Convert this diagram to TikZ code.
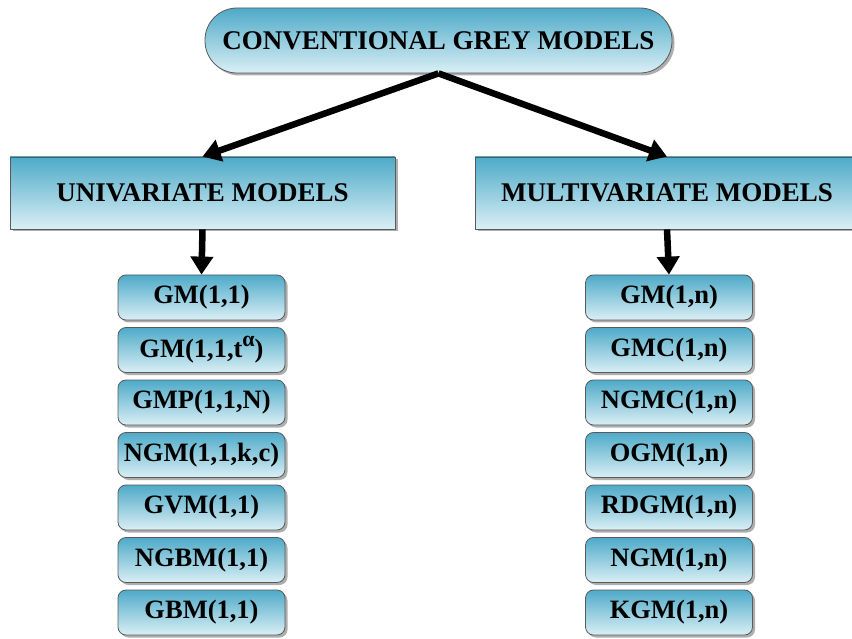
\documentclass[tikz,border=0pt]{standalone}
\usepackage{fontspec}
\setmainfont{Liberation Serif}[BoldFont={Liberation Serif Bold}]
\usetikzlibrary{arrows.meta,shadows,positioning}
\definecolor{boxtop}{RGB}{78,170,200}
\definecolor{boxbot}{RGB}{218,239,245}
\definecolor{boxline}{RGB}{90,90,90}
\tikzset{
  boxbase/.style={draw=boxline, line width=0.8pt, top color=boxtop, bottom color=boxbot,
    drop shadow={shadow xshift=2.5pt, shadow yshift=-2.5pt, opacity=0.45, fill=black!70},
    align=center, inner sep=0pt, font=\fontsize{27}{31}\selectfont\bfseries},
  pillbox/.style={boxbase, rounded corners=32pt, minimum width=467pt, minimum height=65pt},
  headbox/.style={boxbase, minimum height=72pt},
  itembox/.style={boxbase, rounded corners=8pt, minimum width=167pt, minimum height=45pt,
    font=\fontsize{26.5}{30}\selectfont\bfseries},
  arr/.style={line width=6.5pt, -{Triangle[width=22pt,length=18pt]}}
}
\begin{document}
\begin{tikzpicture}[x=1pt,y=-1pt]
\useasboundingbox (0,0) rectangle (852,639);
\node[pillbox] (top) at (438.5,40.5) {CONVENTIONAL GREY MODELS};
\node[headbox, minimum width=385pt] (uni) at (202.5,193) {UNIVARIATE MODELS};
\node[headbox, minimum width=384pt] (multi) at (667,193) {MULTIVARIATE MODELS};

\node[itembox] (l1) at (201.5,297.5) {GM(1,1)};
\node[itembox] (l2) at (201.5,350) {GM(1,1,t{\fontsize{22}{22}\selectfont\raisebox{11pt}{α}})};
\node[itembox] (l3) at (201.5,402.5) {GMP(1,1,N)};
\node[itembox] (l4) at (201.5,455) {NGM(1,1,k,c)};
\node[itembox] (l5) at (201.5,507.5) {GVM(1,1)};
\node[itembox] (l6) at (201.5,560) {NGBM(1,1)};
\node[itembox] (l7) at (201.5,612.5) {GBM(1,1)};

\node[itembox] (r1) at (669,297.5) {GM(1,n)};
\node[itembox] (r2) at (669,350) {GMC(1,n)};
\node[itembox] (r3) at (669,402.5) {NGMC(1,n)};
\node[itembox] (r4) at (669,455) {OGM(1,n)};
\node[itembox] (r5) at (669,507.5) {RDGM(1,n)};
\node[itembox] (r6) at (669,560) {NGM(1,n)};
\node[itembox] (r7) at (669,612.5) {KGM(1,n)};

\draw[arr] (top.south) -- (uni.north);
\draw[arr] (top.south) -- (multi.north);
\draw[arr] (uni.south) -- (l1.north);
\draw[arr] (multi.south) -- (r1.north);
\end{tikzpicture}
\end{document}
